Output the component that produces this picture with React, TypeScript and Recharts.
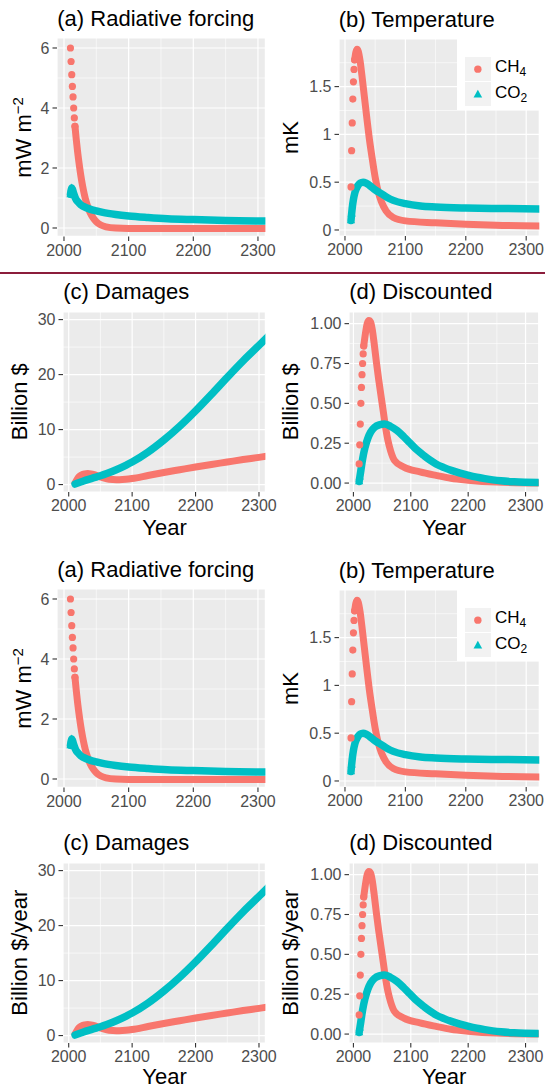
import React from 'react';
import { ComposedChart, Line, Scatter, XAxis, YAxis, CartesianGrid, Legend } from 'recharts';

type Pt = [number, number];

const CH4_COLOR = '#F8766D';
const CO2_COLOR = '#00BFC4';
const FONT = '"Liberation Sans", Arial, Helvetica, sans-serif';

const gasNames = ['CH4', 'CO2'];

// shared x axis (year)
const yearTicks = [2000, 2100, 2200, 2300];
const yearMinor = [2050, 2150, 2250];

// (a) radiative forcing, mW m-2
const forcingTicks = [0, 2, 4, 6];
const forcingMinor = [1, 3, 5];
const forcingCh4Dots: Pt[] = [[2010, 6.0], [2011, 5.55], [2012, 5.11], [2013, 4.72], [2014, 4.37], [2015, 4.0], [2016, 3.67], [2017, 3.39]];
const forcingCh4: Pt[] = [[2017, 3.39], [2019, 2.95], [2021, 2.55], [2024, 2.05], [2027, 1.62], [2030, 1.27], [2033, 0.98], [2036, 0.76], [2040, 0.53], [2045, 0.34], [2050, 0.21], [2057, 0.1], [2065, 0.04], [2080, 0.0], [2120, -0.02], [2320, -0.02]];
const forcingCo2Dots: Pt[] = [[2010, 1.12], [2011, 1.25], [2012, 1.33]];
const forcingCo2: Pt[] = [[2010, 1.12], [2011, 1.25], [2012, 1.33], [2013, 1.3], [2015, 1.15], [2018, 0.98], [2022, 0.86], [2026, 0.77], [2030, 0.72], [2040, 0.63], [2050, 0.57], [2060, 0.52], [2080, 0.45], [2100, 0.4], [2130, 0.35], [2160, 0.31], [2200, 0.28], [2250, 0.25], [2330, 0.23]];

// (b) temperature, mK
const tempTicks = [0, 0.5, 1, 1.5];
const tempMinor = [0.25, 0.75, 1.25, 1.75];
const tempCh4Dots: Pt[] = [[2010, 0.45], [2011, 0.83], [2012, 1.12], [2013, 1.37], [2014, 1.55], [2015, 1.68], [2016, 1.78]];
const tempCh4: Pt[] = [[2016, 1.78], [2018, 1.86], [2020, 1.89], [2022, 1.87], [2025, 1.77], [2028, 1.62], [2032, 1.4], [2036, 1.18], [2040, 0.97], [2045, 0.75], [2050, 0.55], [2055, 0.4], [2060, 0.3], [2068, 0.2], [2080, 0.13], [2100, 0.095], [2150, 0.075], [2200, 0.06], [2250, 0.05], [2330, 0.042]];
const tempCo2Dots: Pt[] = [[2010, 0.1], [2011, 0.17]];
const tempCo2: Pt[] = [[2010, 0.1], [2011, 0.17], [2012, 0.23], [2014, 0.32], [2016, 0.38], [2018, 0.42], [2021, 0.46], [2025, 0.49], [2030, 0.5], [2035, 0.49], [2040, 0.47], [2050, 0.42], [2060, 0.38], [2070, 0.34], [2080, 0.31], [2100, 0.275], [2125, 0.25], [2150, 0.24], [2200, 0.23], [2250, 0.225], [2330, 0.22]];

// (c) damages, billion $
const damageTicks = [0, 10, 20, 30];
const damageMinor = [5, 15, 25];
const damageCh4Dots: Pt[] = [];
const damageCh4: Pt[] = [[2010, 0.3], [2013, 0.9], [2016, 1.4], [2020, 1.75], [2025, 1.95], [2030, 2.0], [2035, 1.95], [2040, 1.8], [2045, 1.6], [2050, 1.4], [2055, 1.2], [2060, 1.05], [2070, 0.92], [2080, 0.88], [2090, 0.95], [2100, 1.1], [2125, 1.65], [2150, 2.2], [2175, 2.7], [2200, 3.2], [2225, 3.65], [2250, 4.1], [2275, 4.55], [2300, 4.95], [2320, 5.3]];
const damageCo2Dots: Pt[] = [];
const damageCo2: Pt[] = [[2010, 0.1], [2020, 0.5], [2030, 0.9], [2040, 1.25], [2050, 1.6], [2060, 2.0], [2075, 2.7], [2090, 3.5], [2100, 4.1], [2125, 5.9], [2150, 8.1], [2175, 10.6], [2200, 13.4], [2225, 16.4], [2250, 19.5], [2275, 22.5], [2300, 25.3], [2320, 27.6]];

// (d) discounted damages, billion $
const discTicks = [0, 0.25, 0.5, 0.75, 1];
const discMinor = [0.125, 0.375, 0.625, 0.875];
const discCh4Dots: Pt[] = [[2010, 0.12], [2011, 0.24], [2012, 0.37], [2013, 0.5], [2014, 0.6], [2015, 0.68], [2016, 0.75], [2017, 0.81], [2018, 0.86]];
const discCh4: Pt[] = [[2018, 0.86], [2021, 0.94], [2024, 1.0], [2027, 1.02], [2030, 1.01], [2033, 0.96], [2036, 0.88], [2040, 0.76], [2044, 0.65], [2048, 0.55], [2052, 0.45], [2056, 0.35], [2060, 0.27], [2065, 0.2], [2072, 0.14], [2088, 0.1], [2116, 0.07], [2144, 0.048], [2170, 0.03], [2200, 0.018], [2250, 0.006], [2330, 0.0]];
const discCo2Dots: Pt[] = [[2010, 0.01], [2011, 0.04]];
const discCo2: Pt[] = [[2010, 0.01], [2013, 0.08], [2016, 0.15], [2020, 0.22], [2025, 0.28], [2030, 0.32], [2037, 0.35], [2045, 0.365], [2054, 0.37], [2065, 0.355], [2076, 0.33], [2088, 0.29], [2099, 0.25], [2110, 0.21], [2122, 0.175], [2133, 0.145], [2144, 0.12], [2158, 0.097], [2172, 0.078], [2186, 0.062], [2201, 0.048], [2215, 0.037], [2229, 0.028], [2243, 0.02], [2257, 0.014], [2280, 0.008], [2330, 0.003]];

const Y_AXIS_W = 52;
const X_AXIS_H = 30;
const RIGHT_PAD = 20; // room for the last year label
const HALF_SHIFT = 551;

interface PanelSpec {
  key: string;
  title: string;
  yTitle: React.ReactNode;
  yTitleX: number;
  plot: { x: number; y: number; w: number; h: number };
  xDomain: [number, number];
  yDomain: [number, number];
  yTicks: number[];
  yMinor: number[];
  yFormat: (v: number) => string;
  ch4Dots: Pt[];
  ch4: Pt[];
  co2Dots: Pt[];
  co2: Pt[];
  legend?: boolean;
  xTitleY?: number;
}

const plain = (v: number) => String(v);
const twoDp = (v: number) => v.toFixed(2);

const forcingTitle = (
  <>
    mW m<tspan dy={-8} fontSize={15}>−2</tspan>
  </>
);

function makeHalf(shift: number, moneyLabel: string, suffix: string, yearGap: number): PanelSpec[] {
  return [
    {
      key: 'a' + suffix,
      title: '(a) Radiative forcing',
      yTitle: forcingTitle,
      yTitleX: 31,
      plot: { x: 57.3, y: 38.3 + shift, w: 208.4, h: 198.4 },
      xDomain: [1989.2, 2311.5],
      yDomain: [-0.28, 6.333],
      yTicks: forcingTicks,
      yMinor: forcingMinor,
      yFormat: plain,
      ch4Dots: forcingCh4Dots,
      ch4: forcingCh4,
      co2Dots: forcingCo2Dots,
      co2: forcingCo2,
    },
    {
      key: 'b' + suffix,
      title: '(b) Temperature',
      yTitle: 'mK',
      yTitleX: 298,
      plot: { x: 338.7, y: 39 + shift, w: 200.3, h: 197 },
      xDomain: [1990.1, 2321.7],
      yDomain: [-0.063, 1.998],
      yTicks: tempTicks,
      yMinor: tempMinor,
      yFormat: plain,
      ch4Dots: tempCh4Dots,
      ch4: tempCh4,
      co2Dots: tempCo2Dots,
      co2: tempCo2,
      legend: true,
    },
    {
      key: 'c' + suffix,
      title: '(c) Damages',
      yTitle: moneyLabel,
      yTitleX: 27,
      plot: { x: 63.3, y: 311.7 + shift, w: 202.4, h: 180 },
      xDomain: [1991.0, 2310.1],
      yDomain: [-1.35, 31.38],
      yTicks: damageTicks,
      yMinor: damageMinor,
      yFormat: plain,
      ch4Dots: damageCh4Dots,
      ch4: damageCh4,
      co2Dots: damageCo2Dots,
      co2: damageCo2,
      xTitleY: 311.7 + shift + 180 + yearGap,
    },
    {
      key: 'd' + suffix,
      title: '(d) Discounted',
      yTitle: moneyLabel,
      yTitleX: 298,
      plot: { x: 349.3, y: 311.7 + shift, w: 189.7, h: 180 },
      xDomain: [1992.3, 2322.9],
      yDomain: [-0.056, 1.073],
      yTicks: discTicks,
      yMinor: discMinor,
      yFormat: twoDp,
      ch4Dots: discCh4Dots,
      ch4: discCh4,
      co2Dots: discCo2Dots,
      co2: discCo2,
      xTitleY: 311.7 + shift + 180 + yearGap,
    },
  ];
}

const panels: PanelSpec[] = [
  ...makeHalf(0, 'Billion $', 'top', 43.5),
  ...makeHalf(HALF_SHIFT, 'Billion $/year', 'bottom', 41),
];

const rows = (pts: Pt[]) => pts.map(([year, v]) => ({ year, v }));

const triPoints = (cx: number, cy: number, s: number) =>
  `${cx},${cy - s} ${cx + s * 0.9},${cy + s * 0.6} ${cx - s * 0.9},${cy + s * 0.6}`;

const ch4Shape = (p: any) => <circle cx={p.cx} cy={p.cy} r={3.6} fill={CH4_COLOR} />;
const co2Shape = (p: any) => <polygon points={triPoints(p.cx, p.cy, 4.6)} fill={CO2_COLOR} />;

function gasLabel(g: string) {
  const m = g.match(/^([A-Z]+)(\d)$/);
  if (!m) return g;
  return (
    <>
      {m[1]}
      <span style={{ fontSize: 12, position: 'relative', top: 4 }}>{m[2]}</span>
    </>
  );
}

function GasLegend() {
  return (
    <div style={{ width: 82, height: 71, background: '#FFFFFF', position: 'relative', fontFamily: FONT }}>
      {gasNames.map((g, i) => (
        <React.Fragment key={g}>
          <svg
            width={25.7}
            height={24.3}
            style={{ position: 'absolute', left: 7.7, top: 17.7 + i * 25, background: '#F2F2F2' }}
          >
            {i === 0 ? (
              <circle cx={12.85} cy={12.15} r={3.7} fill={CH4_COLOR} />
            ) : (
              <polygon points={triPoints(12.85, 12.6, 4.8)} fill={CO2_COLOR} />
            )}
          </svg>
          <div
            style={{
              position: 'absolute',
              left: 37.7,
              top: 18.6 + i * 26,
              fontSize: 17,
              lineHeight: '17px',
              color: '#000',
              whiteSpace: 'nowrap',
            }}
          >
            {gasLabel(g)}
          </div>
        </React.Fragment>
      ))}
    </div>
  );
}

const tickStyle = { fill: '#4D4D4D', fontSize: 16, fontFamily: FONT };
const tickLineStyle = { stroke: '#333333', strokeWidth: 1.1 };

function Panel({ spec }: { spec: PanelSpec }) {
  const left = spec.plot.x - Y_AXIS_W;
  const top = spec.plot.y;
  const width = Y_AXIS_W + spec.plot.w + RIGHT_PAD;
  const height = spec.plot.h + X_AXIS_H;
  return (
    <div style={{ position: 'absolute', left, top, width, height }}>
      <ComposedChart width={width} height={height} margin={{ top: 0, right: RIGHT_PAD, bottom: 0, left: 0 }}>
        <CartesianGrid
          fill="#EBEBEB"
          stroke="#FFFFFF"
          strokeWidth={0.6}
          horizontalValues={spec.yMinor}
          verticalValues={yearMinor}
        />
        <CartesianGrid stroke="#FFFFFF" strokeWidth={1.2} />
        <XAxis
          type="number"
          dataKey="year"
          domain={spec.xDomain}
          ticks={yearTicks}
          interval={0}
          allowDataOverflow
          height={X_AXIS_H}
          axisLine={false}
          tickLine={tickLineStyle}
          tickSize={4.5}
          tickMargin={3.5}
          tick={tickStyle}
        />
        <YAxis
          type="number"
          dataKey="v"
          domain={spec.yDomain}
          ticks={spec.yTicks}
          interval={0}
          allowDataOverflow
          width={Y_AXIS_W}
          axisLine={false}
          tickLine={tickLineStyle}
          tickSize={4.5}
          tickMargin={3}
          tick={tickStyle}
          tickFormatter={spec.yFormat}
        />
        <Line
          data={rows(spec.ch4)}
          dataKey="v"
          type="monotone"
          stroke={CH4_COLOR}
          strokeWidth={7}
          strokeLinecap="round"
          strokeLinejoin="round"
          dot={false}
          activeDot={false}
          legendType="none"
          isAnimationActive={false}
        />
        {spec.ch4Dots.length > 0 && (
          <Scatter
            name="CH4"
            data={rows(spec.ch4Dots)}
            dataKey="v"
            fill={CH4_COLOR}
            shape={ch4Shape}
            isAnimationActive={false}
          />
        )}
        <Line
          data={rows(spec.co2)}
          dataKey="v"
          type="monotone"
          stroke={CO2_COLOR}
          strokeWidth={7.5}
          strokeLinecap="round"
          strokeLinejoin="round"
          dot={false}
          activeDot={false}
          legendType="none"
          isAnimationActive={false}
        />
        {spec.co2Dots.length > 0 && (
          <Scatter
            name="CO2"
            data={rows(spec.co2Dots)}
            dataKey="v"
            fill={CO2_COLOR}
            shape={co2Shape}
            isAnimationActive={false}
          />
        )}
        {spec.legend && (
          <Legend
            layout="horizontal"
            verticalAlign="middle"
            align="center"
            content={() => <GasLegend />}
            wrapperStyle={{ position: 'absolute', left: 457.3 - left, top: 0, width: 82, height: 71, margin: 0 }}
          />
        )}
      </ComposedChart>
    </div>
  );
}

export default function App() {
  return (
    <div
      style={{
        position: 'absolute',
        left: 0,
        top: 0,
        width: 545,
        height: 1092,
        background: '#FFFFFF',
        overflow: 'hidden',
        fontFamily: FONT,
      }}
    >
      {panels.map((p) => (
        <Panel key={p.key} spec={p} />
      ))}
      <div style={{ position: 'absolute', left: 0, top: 272.3, width: 545, height: 1.6, background: '#8B1D3B' }} />
      <svg
        width={545}
        height={1092}
        style={{ position: 'absolute', left: 0, top: 0, pointerEvents: 'none' }}
        fontFamily={FONT}
      >
        {panels.map((p) => (
          <g key={p.key}>
            <text x={p.plot.x} y={p.plot.y - 12.5} fontSize={22} fill="#000000">
              {p.title}
            </text>
            <text
              transform={`translate(${p.yTitleX}, ${p.plot.y + p.plot.h / 2}) rotate(-90)`}
              textAnchor="middle"
              fontSize={22}
              fill="#000000"
            >
              {p.yTitle}
            </text>
            {p.xTitleY !== undefined && (
              <text
                x={p.plot.x + p.plot.w / 2}
                y={p.xTitleY}
                textAnchor="middle"
                fontSize={22}
                fill="#000000"
              >
                Year
              </text>
            )}
          </g>
        ))}
      </svg>
    </div>
  );
}
